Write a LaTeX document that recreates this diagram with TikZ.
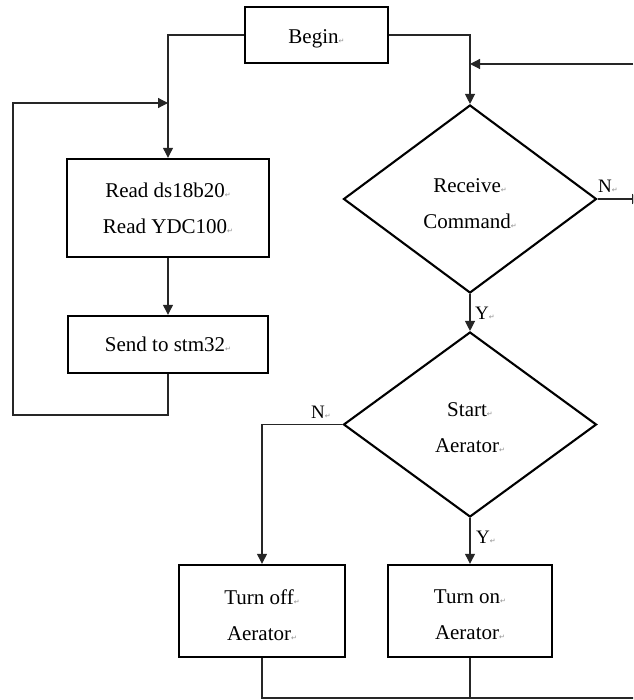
\documentclass[tikz,border=0pt]{standalone}
\usepackage{fontspec}
\setmainfont{Liberation Serif}
\newfontfamily\markfont{DejaVu Sans}
\usetikzlibrary{shapes.geometric,arrows.meta}
% paragraph mark that follows each text in the chart
\newcommand\parmark{{\markfont\fontsize{7}{7}\selectfont\color{black!45}↵}}
\begin{document}
\begin{tikzpicture}[x=1pt,y=-1pt,
  line/.style={line width=1.2pt, draw=black!85},
  arr/.style={line, -{Triangle[length=10pt,width=10pt]}},
  procbox/.style={draw, line width=2.4pt, inner sep=0pt},
  decision/.style={diamond, draw, line width=2.1pt, inner sep=0pt,
    minimum width=253pt, minimum height=188pt},
  txt/.style={inner sep=0pt, align=center, font=\fontsize{21}{36}\selectfont},
  lbl/.style={inner sep=0pt, font=\fontsize{19}{19}\selectfont}]
\useasboundingbox (0,0) rectangle (633,700);
\clip (0,0) rectangle (633,700);

% process boxes
\node[procbox, minimum width=143pt, minimum height=56pt] (begin) at (316.5,35) {};
\node[procbox, minimum width=202pt, minimum height=98pt] (read) at (168,208) {};
\node[procbox, minimum width=200pt, minimum height=57pt] (send) at (168,344.5) {};
\node[procbox, minimum width=166pt, minimum height=92pt] (off) at (262,611) {};
\node[procbox, minimum width=164pt, minimum height=92pt] (on) at (470,611) {};

% decisions
\node[decision] (recv) at (470,199) {};
\node[decision, minimum height=185pt] (start) at (470,424.5) {};

% texts inside the shapes
\node[txt] (begintxt) at ([yshift=-4pt]begin.center) {Begin\parmark};
\node[txt] (readtxt) at (read.center) {Read ds18b20\parmark\\Read YDC100\parmark};
\node[txt] (sendtxt) at (send.center) {Send to stm32\parmark};
\node[txt] (offtxt) at ([yshift=-4pt]off.center) {Turn off\parmark\\Aerator\parmark};
\node[txt] (ontxt) at ([yshift=-4pt]on.center) {Turn on\parmark\\Aerator\parmark};
\node[txt] (recvtxt) at ([yshift=-5pt]recv.center) {Receive\parmark\\Command\parmark};
\node[txt] (starttxt) at ([yshift=-3pt]start.center) {Start\parmark\\Aerator\parmark};

% helper points
\coordinate (inR) at (633,64);
\coordinate (joinR) at (470,64);
\coordinate (loopB) at (13,415);
\coordinate (loopT) at (168,103);
\coordinate (outN) at (642,199);
\coordinate (botR) at (640,698);

% sensor loop
\draw[arr] (begin.west) -| (read.north);
\draw[arr] (read.south) -- (send.north);
\draw[arr] (send.south) |- (loopB) |- (loopT);

% command loop
\draw[arr] (begin.east) -| (recv.north);
\draw[arr] (inR) -- (joinR);
\draw[arr] (recv.east) -- (outN);
\draw[arr] (recv.south) -- (start.north);
\draw[arr] (start.west) -| (off.north);
\draw[arr] (start.south) -- (on.north);
\draw[line] (off.south) |- (botR);
\draw[line] (on.south) -- (on.south |- botR);

% branch labels
\node[lbl, anchor=south west] (nrecv) at (598,193) {N\parmark};
\node[lbl, anchor=west] (yrecv) at (475,313) {Y\parmark};
\node[lbl, anchor=south west] (nstart) at (311,419) {N\parmark};
\node[lbl, anchor=west] (ystart) at (476,537) {Y\parmark};
\end{tikzpicture}
\end{document}
